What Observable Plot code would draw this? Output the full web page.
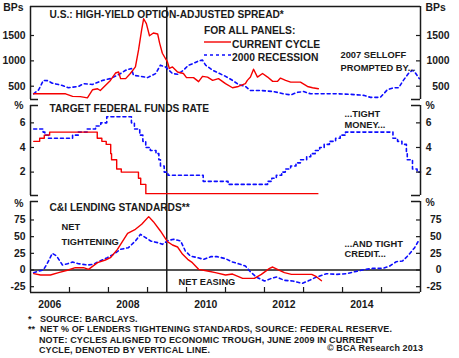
<!DOCTYPE html>
<html><head><meta charset="utf-8">
<script src="https://cdn.jsdelivr.net/npm/d3@7"></script>
<script src="https://cdn.jsdelivr.net/npm/@observablehq/plot@0.6"></script>
<style>
body{margin:0;background:#fff;}
#chart{position:relative;width:459px;height:358px;overflow:hidden;font-family:Arial,"Liberation Sans",Helvetica,sans-serif;font-weight:bold;color:#1a1a1a;background:#fff;}
#chart svg{position:absolute;left:0;}
.t{position:absolute;white-space:nowrap;}
.fn{font-size:9px;line-height:10px;letter-spacing:0.12px;}
.lg{font-size:10.3px;line-height:12px;}
</style></head><body><div id="chart"></div>
<script>
// ---------- DATA ----------
// Panel 1: U.S. high-yield option-adjusted spread, bps (time in decimal years, current-cycle calendar)
const hyCurT = [2006.08,2006.90,2007.08,2007.28,2007.46,2007.59,2007.72,2007.79,2007.92,2008.05,2008.18,2008.26,2008.31,2008.44,2008.56,2008.69,2008.77,2008.85,2008.90,2008.97,2009.05,2009.15,2009.26,2009.31,2009.38,2009.51,2009.56,2009.64,2009.77,2009.92,2010.00,2010.18,2010.31,2010.41,2010.54,2010.67,2010.82,2011.00,2011.18,2011.33,2011.51,2011.56,2011.64,2011.72,2011.82,2011.95,2012.08,2012.21,2012.33,2012.41,2012.54,2012.67,2012.92,2013.10,2013.23,2013.38];
const hyCurV = [350,350,300,295,270,430,450,415,515,615,760,780,650,650,750,880,1215,1615,1830,1735,1495,1550,1530,1350,1150,980,850,880,780,750,670,670,590,695,680,615,650,550,470,495,550,615,680,835,680,750,680,595,595,660,615,580,580,495,470,450];
const hyPrevT = [2006.08,2006.21,2006.33,2006.44,2006.56,2006.82,2006.97,2007.23,2007.36,2007.59,2007.85,2008.05,2008.31,2008.44,2008.59,2008.64,2008.82,2009.00,2009.21,2009.33,2009.46,2009.64,2009.77,2009.92,2010.05,2010.18,2010.31,2010.41,2010.49,2010.67,2010.82,2011.00,2011.18,2011.33,2011.51,2011.64,2011.90,2012.23,2012.49,2012.67,2012.85,2013.00,2013.18,2013.51,2013.87,2014.21,2014.54,2014.72,2014.97,2015.15,2015.31,2015.44,2015.56,2015.69,2015.79,2015.87,2015.97];
const hyPrevV = [350,430,615,610,560,515,470,495,550,535,615,650,750,815,850,715,695,670,750,915,880,750,735,815,915,950,1000,1015,915,815,760,695,615,535,495,415,415,395,350,330,380,395,350,350,350,340,320,280,280,430,470,470,615,750,815,760,650];

// Panel 2: target federal funds rate, % (change points)
const ffrCurDates = ["2006-01-31","2006-03-28","2006-05-10","2006-06-29","2007-09-18","2007-10-31","2007-12-11","2008-01-22","2008-01-30","2008-03-18","2008-04-30","2008-10-08","2008-10-29","2008-12-16","2013-05-15"];
const ffrCurVals  = [4.5,4.75,5.0,5.25,4.75,4.5,4.25,3.5,3.0,2.25,2.0,1.5,1.0,0.25,0.25];
const ffrPrevDates = ["2006-01-31","2006-04-29","2006-05-15","2006-06-17","2007-01-30","2007-03-24","2007-06-16","2007-09-02","2007-10-21","2007-12-16","2008-08-03","2008-08-31","2008-10-20","2008-11-18","2008-12-15","2009-01-27","2009-03-21","2009-04-17","2009-05-02","2009-06-06","2009-07-11","2010-06-06","2011-01-25","2012-01-30","2012-03-10","2012-04-21","2012-06-10","2012-07-14","2012-09-02","2012-10-22","2012-12-03","2013-01-30","2013-03-09","2013-04-20","2013-06-01","2013-07-13","2013-08-31","2013-10-28","2013-12-10","2014-01-29","2015-04-18","2015-05-31","2015-07-11","2015-08-22","2015-08-30","2015-10-18","2015-11-30","2016-01-01"];
const ffrPrevVals  = [5.5,5.25,5.0,4.75,5.0,5.25,5.5,5.75,6.0,6.5,6.0,5.5,5.0,4.5,4.0,3.75,3.5,3.0,2.5,2.0,1.75,1.25,1.0,1.25,1.5,1.75,2.0,2.25,2.5,2.75,3.0,3.25,3.5,3.75,4.0,4.25,4.5,4.75,5.0,5.25,4.75,4.5,4.25,3.5,3.0,2.25,2.0,2.0];

// Panel 3: C&I lending standards, net % tightening
const ciCurT = [2006.08,2006.26,2006.51,2006.72,2006.97,2007.15,2007.36,2007.49,2007.72,2007.92,2008.05,2008.23,2008.49,2008.69,2008.85,2009.03,2009.15,2009.33,2009.51,2009.64,2009.77,2009.90,2010.03,2010.15,2010.31,2010.54,2010.74,2011.00,2011.18,2011.44,2011.74,2011.92,2012.13,2012.21,2012.33,2012.51,2012.69,2013.21,2013.33,2013.46];
const ciCurV = [-5.5,-7.5,-7.5,-4,0,3.5,3.5,1,11,15,18.5,31,55,61,68.5,80,72.5,58.5,42.5,37.5,34.5,23.5,16,11,1,-1.5,-4,-7.5,-6,-12.5,-12.5,-6.5,2.5,4.5,1,-4,-6.5,-6.5,-10,-16];
const ciPrevT = [2006.08,2006.21,2006.33,2006.44,2006.56,2006.67,2006.82,2006.95,2007.08,2007.23,2007.46,2007.62,2007.74,2007.97,2008.13,2008.31,2008.51,2008.69,2008.82,2008.95,2009.08,2009.26,2009.38,2009.54,2009.67,2009.85,2009.97,2010.10,2010.28,2010.44,2010.62,2010.79,2011.00,2011.18,2011.33,2011.51,2011.62,2011.79,2012.00,2012.18,2012.31,2012.51,2012.72,2012.97,2013.15,2013.33,2013.59,2013.85,2014.10,2014.31,2014.51,2014.77,2015.03,2015.21,2015.38,2015.54,2015.67,2015.85,2015.97];
const ciPrevV = [-4,-1.5,0,11,25,21,7.5,9.5,12,9.5,7.5,8.5,12.5,18.5,23.5,31,33.5,43.5,53.5,48.5,43.5,41,38.5,44.5,46,43.5,28.5,21,18.5,16,20,20,17,12,9.5,6,-1.5,-10.5,-16.5,-12.5,-10.5,-15.5,-16.5,-20,-15.5,-10.5,-5.5,-6.5,-5.5,-2.5,0,2.5,2.5,6,12.5,13.5,21,33.5,46];

// Axes
const xStart = "2006-01-01", xEnd = "2016-01-01";
const troughDate = ["2009-06-30"];
const yearTicks = [2007,2008,2009,2010,2011,2012,2013,2014,2015];
const yearLabels = [2006,2008,2010,2012,2014];
const hyTicks = [500,1000,1500];
const ffrTicks = [2,4,6];
const ciTicks = [-25,0,25,50,75];
const hyDomain = [238, 2072];
const ffrDomain = [0.1, 7.41];
const ciDomain = [-33.7, 102.7];

// ---------- helpers ----------
const yr = t => { const y = Math.floor(t); const s = Date.UTC(y,0,1), e = Date.UTC(y+1,0,1); return new Date(s + (t - y) * (e - s)); };
const pd = s => new Date(s + "T00:00:00Z");
const rows = (T, V, f) => T.map((t, i) => ({date: f(t), value: V[i]}));

const W = 459, ML = 30, MR = 39, PW = W - ML - MR;
const INK = "#1a1a1a", RED = "#f50000", BLUE = "#0d0dff";
const FONT = 'Arial, "Liberation Sans", Helvetica, sans-serif';
const chart = document.getElementById("chart");
const xDomain = [pd(xStart), pd(xEnd)];

function frameMarks(yDomain, ticks, {top, bottom, rightDx, rule}) {
  const m = [];
  m.push(Plot.ruleX(xDomain, {x: d => d, stroke: INK, strokeWidth: 1.5, insetTop: rule[0], insetBottom: rule[1]}));
  const ends = [];
  if (top === "bracket") ends.push(yDomain[1]);
  if (bottom === "bracket") ends.push(yDomain[0]);
  m.push(Plot.tickY(ends, {y: d => d, stroke: INK, strokeWidth: 1.5, insetRight: PW - 8}));
  m.push(Plot.tickY(ends, {y: d => d, stroke: INK, strokeWidth: 1.5, insetLeft: PW - 9}));
  if (top === "full") m.push(Plot.ruleY([yDomain[1]], {stroke: INK, strokeWidth: 1.5}));
  if (bottom === "full") m.push(Plot.ruleY([yDomain[0]], {stroke: INK, strokeWidth: 1.5}));
  m.push(Plot.tickY(ticks, {y: d => d, stroke: INK, strokeWidth: 1.2, insetRight: PW - 4}));
  m.push(Plot.tickY(ticks, {y: d => d, stroke: INK, strokeWidth: 1.2, insetLeft: PW - 4}));
  m.push(Plot.text(ticks, {y: d => d, text: d => String(d), frameAnchor: "left", textAnchor: "end", dx: -5, lineAnchor: "middle", fill: INK}));
  m.push(Plot.text(ticks, {y: d => d, text: d => String(d), frameAnchor: "right", textAnchor: "end", dx: rightDx, lineAnchor: "middle", fill: INK}));
  return m;
}

function note(text, dx, dy, size) {
  return Plot.text([text], {frameAnchor: "top-left", dx, dy, textAnchor: "start", lineAnchor: "middle", fontSize: size, fill: INK});
}

function panel({top, height, mt, mb, yDomain, marks}) {
  const svg = Plot.plot({
    width: W, height, marginLeft: ML, marginRight: MR, marginTop: mt, marginBottom: mb,
    x: {type: "utc", domain: xDomain, axis: null},
    y: {domain: yDomain, axis: null},
    style: {fontFamily: FONT, fontWeight: "bold", fontSize: "10.4px", color: INK, background: "transparent", overflow: "visible"},
    marks
  });
  svg.style.position = "absolute";
  svg.style.top = top + "px";
  svg.style.left = "0px";
  chart.appendChild(svg);
}

const troughRule = (t, b) => Plot.ruleX(troughDate, {x: d => pd(d), stroke: INK, strokeWidth: 1.5, insetTop: t, insetBottom: b});
const redLine = (data, curve = "linear") => Plot.line(data, {x: "date", y: "value", stroke: RED, strokeWidth: 1.4, curve});
const blueLine = (data, curve = "linear") => Plot.line(data, {x: "date", y: "value", stroke: BLUE, strokeWidth: 1.6, strokeDasharray: "3,3", curve});

// ---------- Panel 1 ----------
panel({
  top: 0, height: 102, mt: 6, mb: 3, yDomain: hyDomain,
  marks: [
    troughRule(0, -3),
    blueLine(rows(hyPrevT, hyPrevV, yr)),
    redLine(rows(hyCurT, hyCurV, yr)),
    ...frameMarks(hyDomain, hyTicks, {top: "full", bottom: "bracket", rightDx: 29, rule: [0, 0]}),
    Plot.text(["BPs"], {frameAnchor: "top-left", dx: -7, dy: 1.5, textAnchor: "end", lineAnchor: "middle", fill: INK}),
    Plot.text(["BPs"], {frameAnchor: "top-right", dx: 5, dy: 1.5, textAnchor: "start", lineAnchor: "middle", fill: INK}),
    note("U.S.: HIGH-YIELD OPTION-ADJUSTED SPREAD*", 19, 8.5, 10.2),
    note("2007 SELLOFF", 310, 49, 9.3),
    note("PROMPTED BY...", 310, 62, 9.3)
  ]
});

// ---------- Panel 2 ----------
panel({
  top: 102, height: 96, mt: 3, mb: 3, yDomain: ffrDomain,
  marks: [
    troughRule(-3, -3),
    blueLine(rows(ffrPrevDates, ffrPrevVals, pd), "step-after"),
    redLine(rows(ffrCurDates, ffrCurVals, pd), "step-after"),
    ...frameMarks(ffrDomain, ffrTicks, {top: "bracket", bottom: "bracket", rightDx: 11, rule: [0, 0]}),
    Plot.text(["%"], {frameAnchor: "top-left", dx: -7, dy: 0, textAnchor: "end", lineAnchor: "middle", fill: INK}),
    Plot.text(["%"], {frameAnchor: "top-right", dx: 5, dy: 0, textAnchor: "start", lineAnchor: "middle", fill: INK}),
    note("TARGET FEDERAL FUNDS RATE", 19, 3, 10.2),
    note("...TIGHT", 314, 8.3, 9.3),
    note("MONEY...", 314, 20, 9.3)
  ]
});

// ---------- Panel 3 ----------
panel({
  top: 198, height: 122, mt: 3, mb: 28, yDomain: ciDomain,
  marks: [
    troughRule(-3, 0),
    Plot.ruleY([0], {stroke: INK, strokeWidth: 1.3}),
    blueLine(rows(ciPrevT, ciPrevV, yr)),
    redLine(rows(ciCurT, ciCurV, yr)),
    ...frameMarks(ciDomain, ciTicks, {top: "bracket", bottom: "full", rightDx: 21, rule: [0, 0]}),
    Plot.tickX(yearTicks, {x: d => pd(d + "-01-01"), stroke: INK, strokeWidth: 1.2, insetTop: 91 - 5}),
    Plot.text(yearLabels, {x: d => pd(d + "-07-01"), text: d => String(d), frameAnchor: "bottom", dy: 12, lineAnchor: "middle", fill: INK}),
    Plot.text(["%"], {frameAnchor: "top-left", dx: -7, dy: 2, textAnchor: "end", lineAnchor: "middle", fill: INK}),
    Plot.text(["%"], {frameAnchor: "top-right", dx: 5, dy: 1.5, textAnchor: "start", lineAnchor: "middle", fill: INK}),
    note("C&I LENDING STANDARDS**", 19, 6.3, 10.2),
    note("NET", 31, 26, 9.3),
    note("TIGHTENING", 31, 40.7, 9.3),
    note("NET EASING", 148, 80.5, 9.3),
    note("...AND TIGHT", 314, 42.3, 9.3),
    note("CREDIT...", 314, 53, 9.3)
  ]
});

// ---------- Legend (HTML) ----------
function addDiv(cls, text, left, top) {
  const d = document.createElement("div");
  d.className = "t " + cls; d.textContent = text;
  d.style.left = left + "px"; d.style.top = top + "px";
  chart.appendChild(d); return d;
}
function addSwatch(left, top, color, dash, width) {
  const ns = "http://www.w3.org/2000/svg";
  const s = document.createElementNS(ns, "svg");
  s.setAttribute("width", 27); s.setAttribute("height", 4);
  s.style.position = "absolute"; s.style.left = left + "px"; s.style.top = (top - 2) + "px";
  const l = document.createElementNS(ns, "line");
  l.setAttribute("x1", 0); l.setAttribute("x2", 27); l.setAttribute("y1", 2); l.setAttribute("y2", 2);
  l.setAttribute("stroke", color); l.setAttribute("stroke-width", width);
  if (dash) l.setAttribute("stroke-dasharray", dash);
  s.appendChild(l); chart.appendChild(s);
}
addDiv("lg", "FOR ALL PANELS:", 204, 31 - 6);
addSwatch(204, 42, RED, null, 1.4);
addDiv("lg", "CURRENT CYCLE", 232, 44.5 - 6);
addSwatch(204, 55, BLUE, "3,3", 1.6);
addDiv("lg", "2000 RECESSION", 232, 57.5 - 6);

// ---------- Footnotes ----------
addDiv("fn", "*", 28, 314);
addDiv("fn", "SOURCE: BARCLAYS.", 40, 314);
addDiv("fn", "**", 28, 324);
addDiv("fn", "NET % OF LENDERS TIGHTENING STANDARDS, SOURCE: FEDERAL RESERVE.", 40, 324);
addDiv("fn", "NOTE: CYCLES ALIGNED TO ECONOMIC TROUGH, JUNE 2009 IN CURRENT", 39, 335);
addDiv("fn", "CYCLE, DENOTED BY VERTICAL LINE.", 39, 344.5);
addDiv("fn", "© BCA Research 2013", 327, 343);
</script></body></html>
